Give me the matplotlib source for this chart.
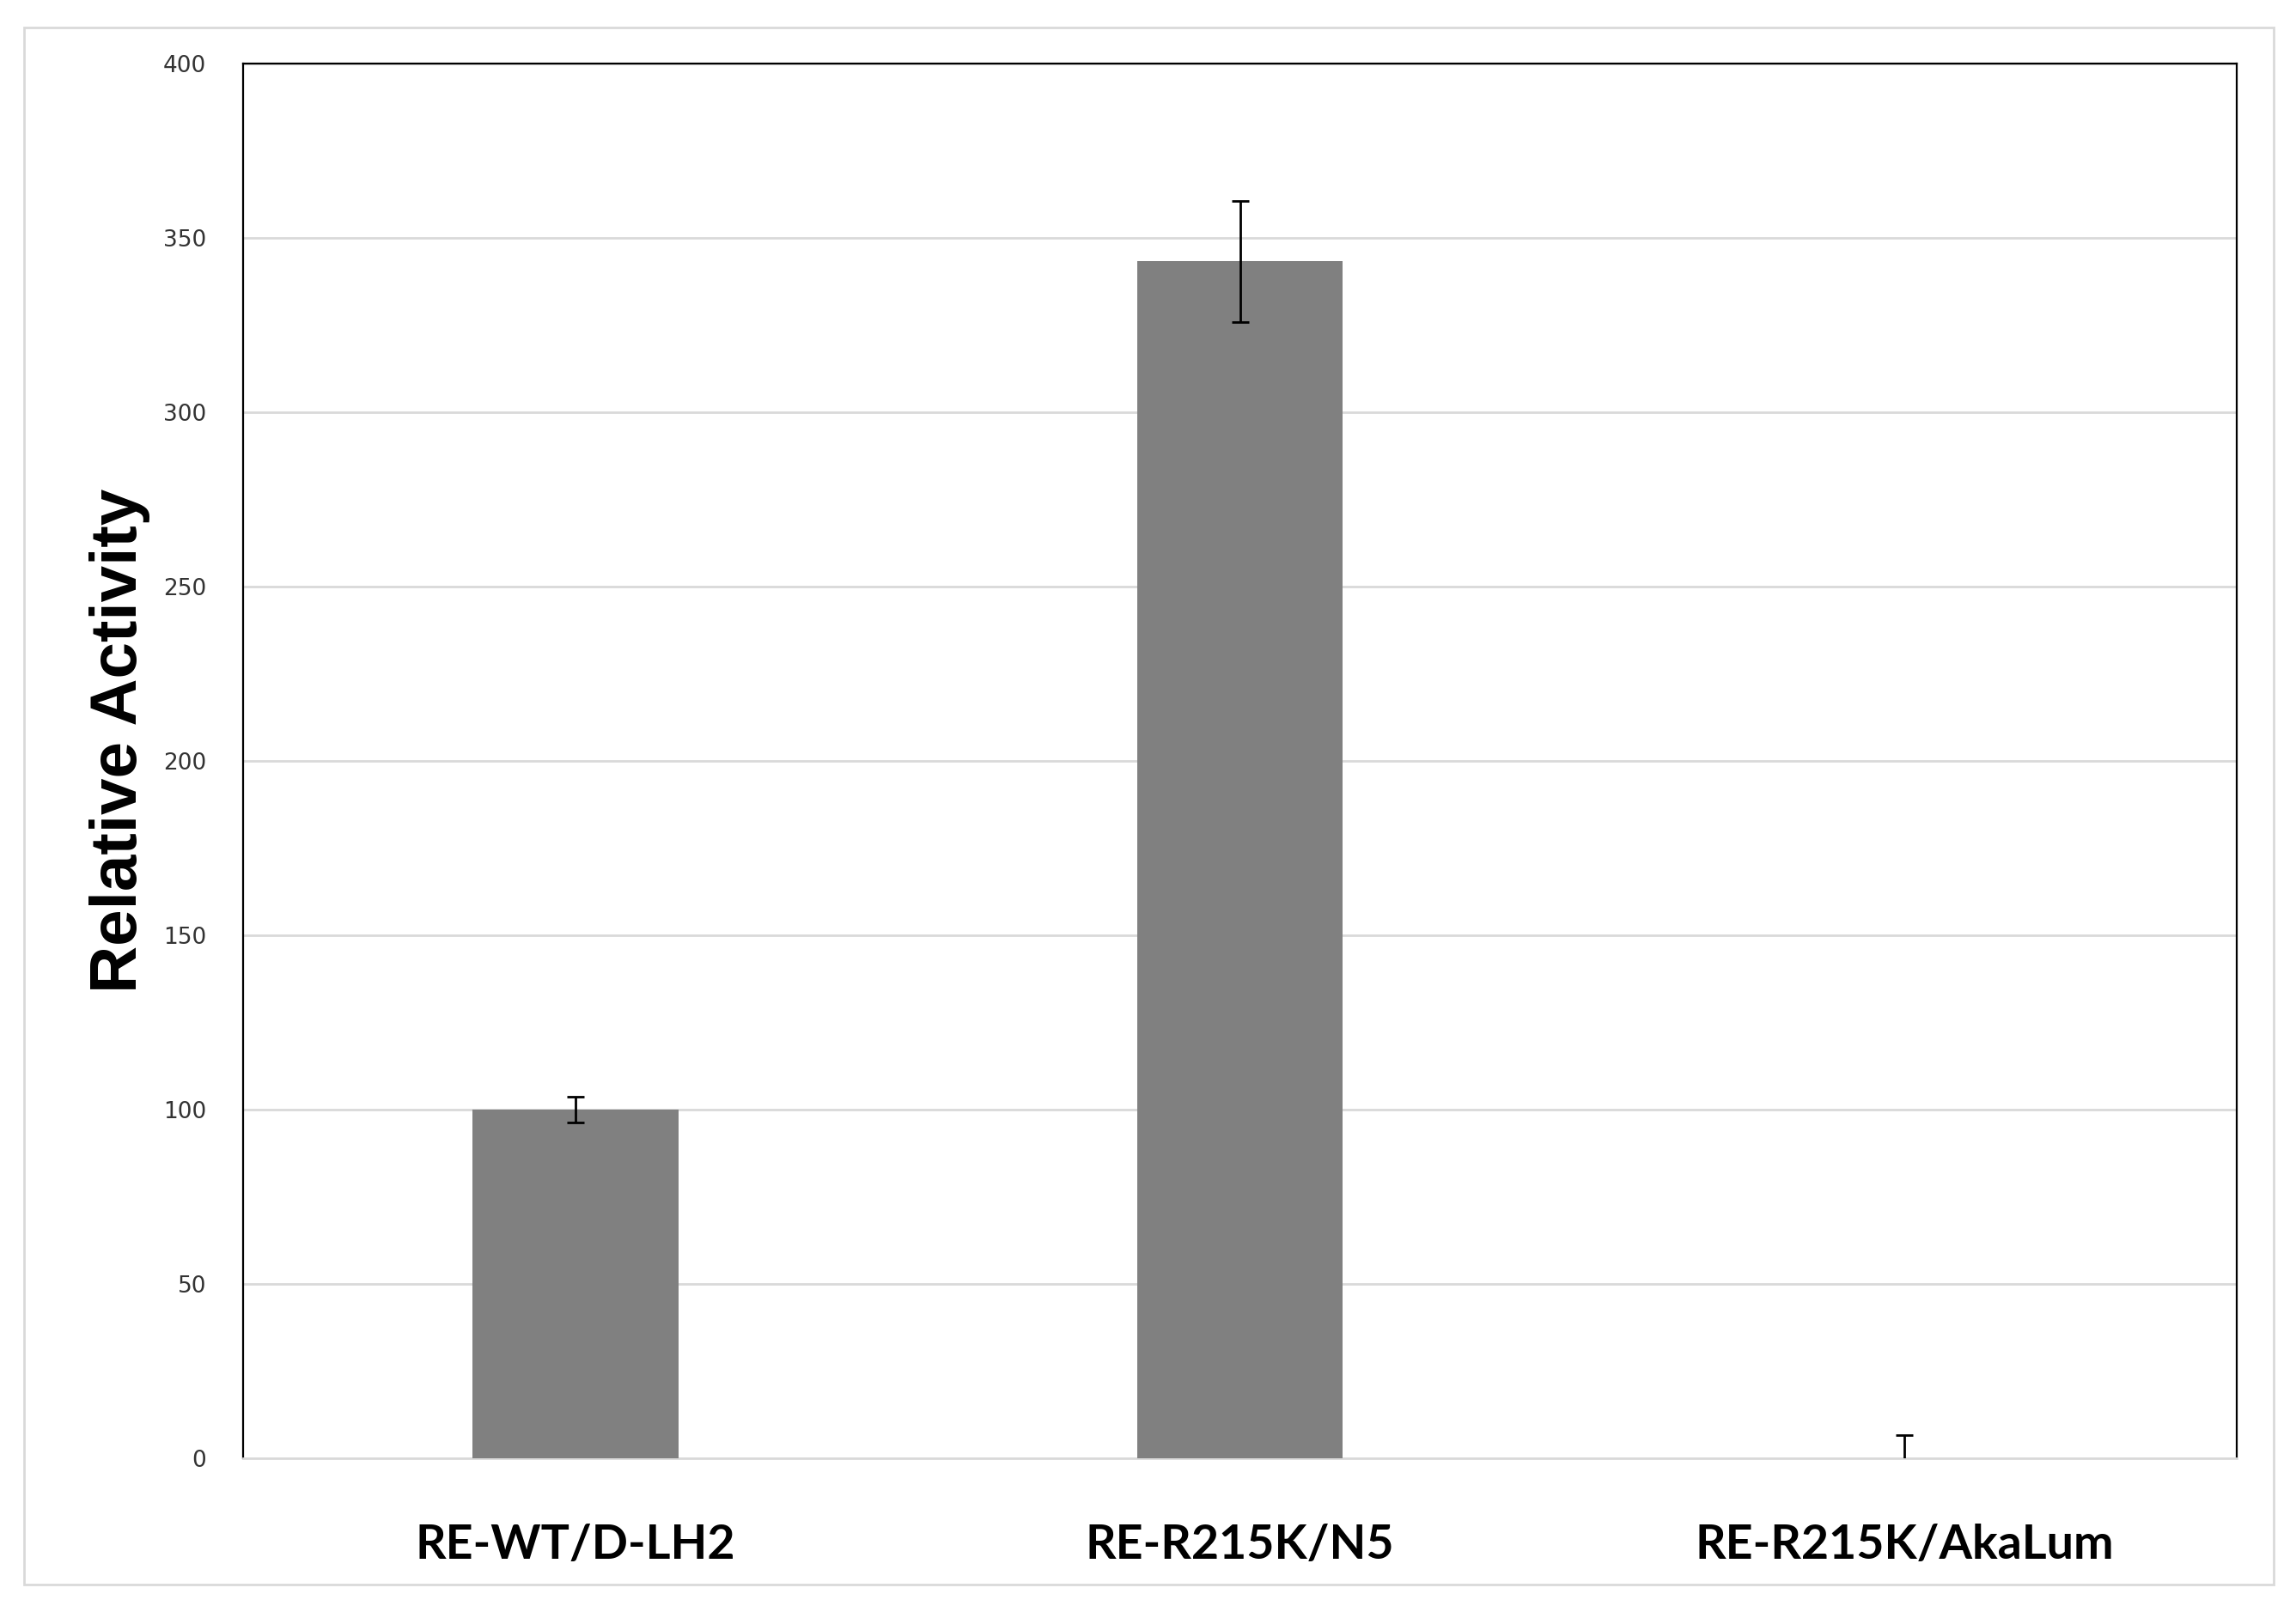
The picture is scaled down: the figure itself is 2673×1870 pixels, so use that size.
import matplotlib
matplotlib.use("Agg")
import matplotlib.pyplot as plt
from matplotlib.patches import Rectangle

categories = ["RE-WT/D-LH2", "RE-R215K/N5", "RE-R215K/AkaLum"]
values = [100.0, 343.3, 0.0]
errors = [3.6, 17.4, 6.6]
yticks = [0, 50, 100, 150, 200, 250, 300, 350, 400]

W, H, DPI = 2673, 1870, 100
fig = plt.figure(figsize=(W / DPI, H / DPI), dpi=DPI)
fig.patch.set_facecolor("white")

# outer chart border
fig.patches.append(Rectangle((28 / W, 1 - 1845 / H), (2647 - 28) / W, (1845 - 32) / H,
                             transform=fig.transFigure, fill=False,
                             edgecolor="#d9d9d9", linewidth=2.0))

ax = fig.add_axes([283 / W, 1 - 1698 / H, (2604 - 283) / W, (1698 - 74) / H])
x = list(range(len(categories)))
ax.bar(x, values, width=0.31, color="#808080", linewidth=0, zorder=3)
ax.errorbar(x, values, yerr=errors,
            fmt="none", ecolor="black", elinewidth=2.0, capsize=7, capthick=2.0, zorder=4)

ax.set_xlim(-0.5, 2.5)
ax.set_ylim(0, 400)
ax.set_yticks(yticks)
ax.set_yticklabels([str(t) for t in yticks], fontsize=19, color="#333333", family="DejaVu Sans")
ax.set_xticks(x)
ax.set_xticklabels(categories, fontsize=40, fontweight="bold", family="Lato")
ax.tick_params(axis="y", length=0, pad=31)
ax.tick_params(axis="x", length=0, pad=55)
ax.yaxis.grid(True, color="#d9d9d9", linewidth=2.0, zorder=0)
ax.set_axisbelow(True)

for side in ["left", "right", "top"]:
    ax.spines[side].set_color("black")
    ax.spines[side].set_linewidth(1.6)
ax.spines["bottom"].set_color("#d9d9d9")
ax.spines["bottom"].set_linewidth(2.0)

ax.set_ylabel("Relative Activity", fontsize=55, fontweight="bold", family="Liberation Sans")
ax.yaxis.set_label_coords(-(283 - 175) / (2604 - 283), (1698 - 862) / (1698 - 74))

fig.savefig("out.png", dpi=DPI)
